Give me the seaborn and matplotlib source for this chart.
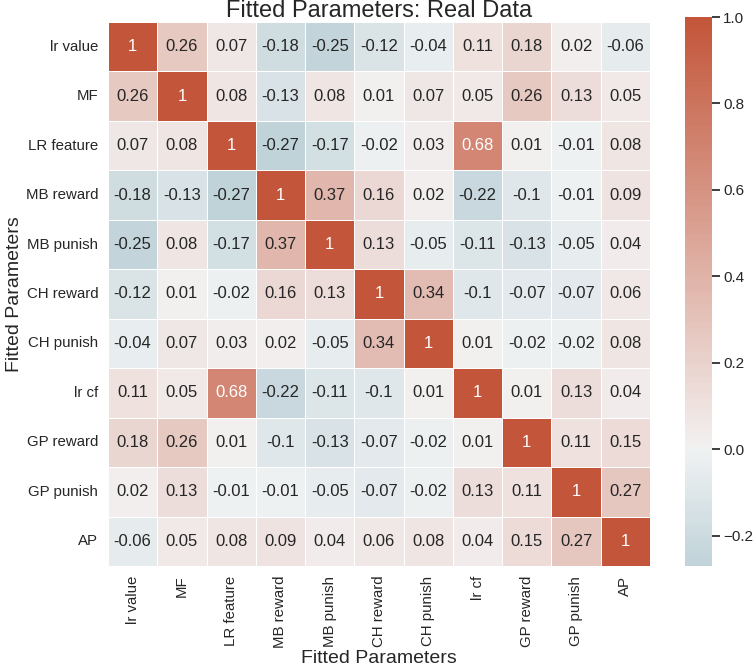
import numpy as np
import pandas as pd
import seaborn as sns
import matplotlib
matplotlib.use("Agg")
import matplotlib.pyplot as plt

labels = ["lr value", "MF", "LR feature", "MB reward", "MB punish", "CH reward",
          "CH punish", "lr cf", "GP reward", "GP punish", "AP"]

row_lr_value  = [1, 0.26, 0.07, -0.18, -0.25, -0.12, -0.04, 0.11, 0.18, 0.02, -0.06]
row_mf        = [0.26, 1, 0.08, -0.13, 0.08, 0.01, 0.07, 0.05, 0.26, 0.13, 0.05]
row_lr_feat   = [0.07, 0.08, 1, -0.27, -0.17, -0.02, 0.03, 0.68, 0.01, -0.01, 0.08]
row_mb_reward = [-0.18, -0.13, -0.27, 1, 0.37, 0.16, 0.02, -0.22, -0.1, -0.01, 0.09]
row_mb_punish = [-0.25, 0.08, -0.17, 0.37, 1, 0.13, -0.05, -0.11, -0.13, -0.05, 0.04]
row_ch_reward = [-0.12, 0.01, -0.02, 0.16, 0.13, 1, 0.34, -0.1, -0.07, -0.07, 0.06]
row_ch_punish = [-0.04, 0.07, 0.03, 0.02, -0.05, 0.34, 1, 0.01, -0.02, -0.02, 0.08]
row_lr_cf     = [0.11, 0.05, 0.68, -0.22, -0.11, -0.1, 0.01, 1, 0.01, 0.13, 0.04]
row_gp_reward = [0.18, 0.26, 0.01, -0.1, -0.13, -0.07, -0.02, 0.01, 1, 0.11, 0.15]
row_gp_punish = [0.02, 0.13, -0.01, -0.01, -0.05, -0.07, -0.02, 0.13, 0.11, 1, 0.27]
row_ap        = [-0.06, 0.05, 0.08, 0.09, 0.04, 0.06, 0.08, 0.04, 0.15, 0.27, 1]

corr = pd.DataFrame([row_lr_value, row_mf, row_lr_feat, row_mb_reward, row_mb_punish,
                     row_ch_reward, row_ch_punish, row_lr_cf, row_gp_reward,
                     row_gp_punish, row_ap], index=labels, columns=labels)

sns.set_theme(style="ticks", context="notebook")
plt.rcParams["font.family"] = ["Liberation Sans", "DejaVu Sans"]

fig = plt.figure(figsize=(7.53, 6.70), dpi=100)
ax = fig.add_axes([0.1434, 0.1552, 0.7198, 0.812])
cax = fig.add_axes([0.9097, 0.1552, 0.0359, 0.8194])

cmap = sns.diverging_palette(220, 20, as_cmap=True)
sns.heatmap(corr, ax=ax, cbar_ax=cax, cmap=cmap, center=0, vmax=1,
            annot=True, linewidths=0.5, linecolor="white",
            annot_kws={"fontsize": 12})
ax.set_title("Fitted Parameters: Real Data", fontsize=17, pad=3)
ax.set_xlabel("Fitted Parameters", fontsize=14, labelpad=1)
ax.set_ylabel("Fitted Parameters", fontsize=14, labelpad=2)
ax.tick_params(length=0, labelsize=10.8, pad=7)
ax.set_xticklabels(labels, rotation=90)
ax.set_yticklabels(labels, rotation=0)
cax.tick_params(labelsize=11, pad=2)

fig.savefig("out.png", dpi=100)
